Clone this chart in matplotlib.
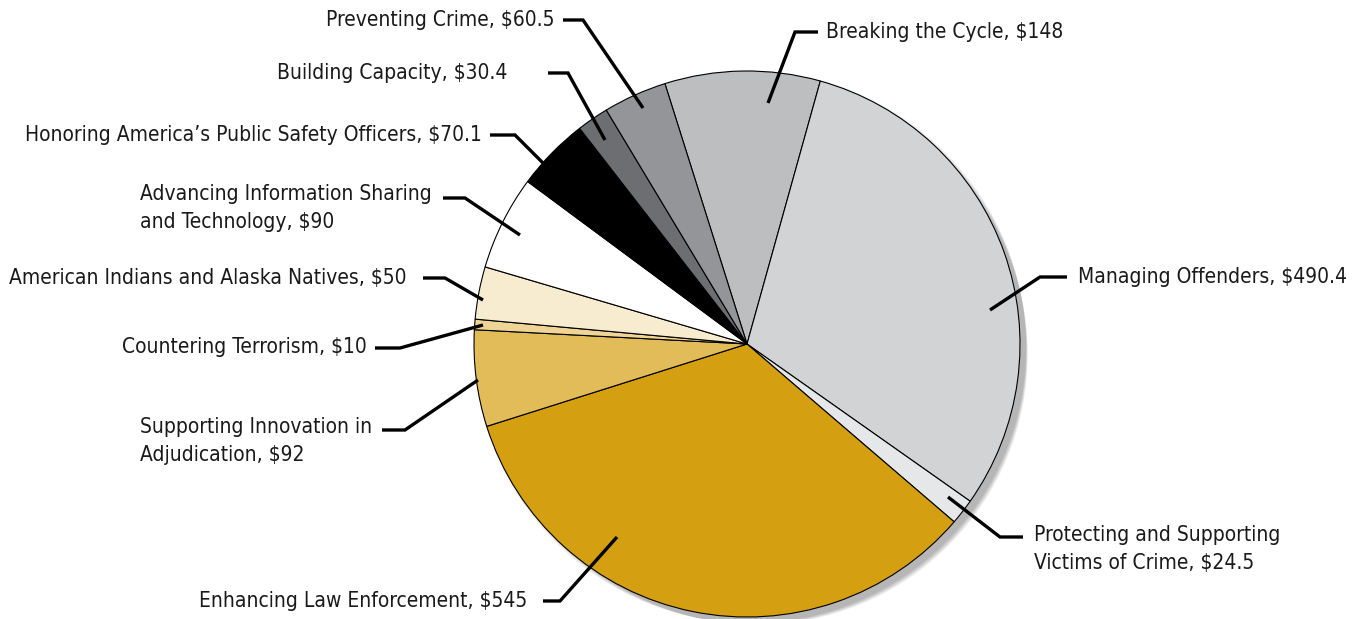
import matplotlib
matplotlib.use("Agg")
import matplotlib.pyplot as plt
from matplotlib.patches import Circle

plt.rcParams['font.family'] = ['DejaVu Sans']

# data, clockwise from the top
labels = [
    "Breaking the Cycle, $148",
    "Managing Offenders, $490.4",
    "Protecting and Supporting\nVictims of Crime, $24.5",
    "Enhancing Law Enforcement, $545",
    "Supporting Innovation in\nAdjudication, $92",
    "Countering Terrorism, $10",
    "American Indians and Alaska Natives, $50",
    "Advancing Information Sharing\nand Technology, $90",
    "Honoring America\u2019s Public Safety Officers, $70.1",
    "Building Capacity, $30.4",
    "Preventing Crime, $60.5",
]
values = [148, 490.4, 24.5, 545, 92, 10, 50, 90, 70.1, 30.4, 60.5]
colors = ["#bcbec0", "#d1d3d4", "#e6e7e8", "#d49f10", "#e1bc58", "#efd595",
          "#f7ebd0", "#ffffff", "#000000", "#6d6e71", "#939598"]

W, H = 1370, 619
cx, cy, R = 747, H - 344, 273

# label anchor (pixel, y down), alignment, leader path (pixel, y down)
label_pos = [
    ((826, 32), "left", [(818, 32), (795, 32), (768, 103)]),
    ((1078, 277), "left", [(1067, 277), (1040, 277), (990, 310)]),
    ((1034, 549), "left", [(1023, 537), (1000, 537), (948, 497)]),
    ((527, 601), "right", [(543, 601), (560, 601), (617, 537)]),
    ((140, 441), "left", [(382, 430), (405, 430), (478, 380)]),
    ((367, 347), "right", [(375, 348), (400, 348), (483, 325)]),
    ((407, 278), "right", [(423, 278), (445, 278), (483, 300)]),
    ((140, 208), "left", [(443, 198), (465, 198), (520, 235)]),
    ((482, 135), "right", [(490, 135), (515, 135), (545, 165)]),
    ((507, 73), "right", [(548, 73), (568, 73), (605, 140)]),
    ((555, 20), "right", [(563, 20), (583, 20), (643, 108)]),
]

fig = plt.figure(figsize=(W / 100, H / 100), dpi=100)
ax = fig.add_axes([0, 0, 1, 1])

# soft drop shadow
for i in range(10):
    ax.add_patch(Circle((cx + 3 + i * 0.9, cy - 3 - i * 0.9), R + 3 - i * 0.7,
                        color="black", alpha=0.03, lw=0, zorder=0))

ax.pie(values, colors=colors, startangle=107.5, counterclock=False,
       center=(cx, cy), radius=R, frame=True,
       wedgeprops=dict(edgecolor="black", linewidth=0.8))
ax.set_xlim(0, W)
ax.set_ylim(0, H)
ax.set_aspect("equal")
ax.axis("off")

for lab, (pos, ha, path) in zip(labels, label_pos):
    ax.text(pos[0], H - pos[1], lab, ha=ha, va="center", fontsize=15,
            fontstretch="condensed", color="#1a1a1a", linespacing=1.45,
            zorder=5)
    xs = [p[0] for p in path]
    ys = [H - p[1] for p in path]
    ax.plot(xs, ys, color="black", lw=2.4, solid_capstyle="butt",
            solid_joinstyle="miter", zorder=6)

fig.savefig("out.png", dpi=100)
